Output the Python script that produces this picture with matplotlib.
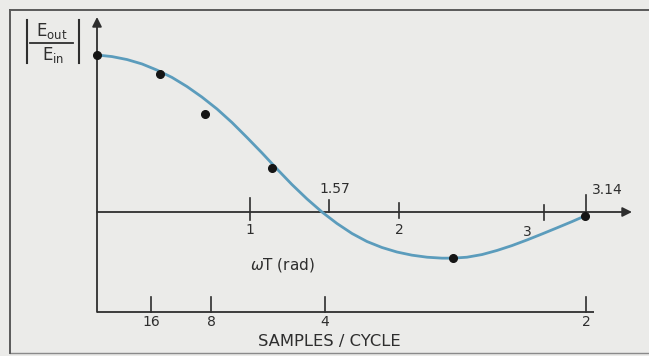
import matplotlib.pyplot as plt

# curve |Eout/Ein| (x in rad, as drawn)
curve_x = [0.000, 0.096, 0.193, 0.289, 0.385, 0.482, 0.578, 0.674, 0.771, 0.867,
           0.963, 1.060, 1.156, 1.252, 1.349, 1.445, 1.541, 1.638, 1.734, 1.830,
           1.927, 2.023, 2.120, 2.216, 2.286, 2.376, 2.473, 2.569, 2.665, 2.762,
           2.858, 2.954, 3.051, 3.134]
curve_y = [1.000, 0.990, 0.971, 0.943, 0.904, 0.857, 0.799, 0.732, 0.656, 0.570,
           0.475, 0.376, 0.274, 0.175, 0.083, 0.000, -0.073, -0.137, -0.188, -0.226,
           -0.255, -0.275, -0.288, -0.294, -0.294, -0.288, -0.271, -0.245, -0.214, -0.178,
           -0.140, -0.101, -0.061, -0.025]

# sampled points
dot_x = [0.0, 0.405, 0.694, 1.124, 2.286, 3.134]
dot_y = [1.0, 0.879, 0.624, 0.280, -0.293, -0.025]

# wT axis ticks (positions as drawn)
wt_labels = ['1', '1.57', '2', '3', '3.14']
wt_pos = [0.983, 1.49, 1.94, 2.871, 3.14]

# samples / cycle axis ticks
spc_labels = ['16', '8', '4', '2']
spc_pos = [0.347, 0.732, 1.464, 3.14]

ink = '#2e2e2e'
blue = '#5b9cbc'
bg = '#ebebe9'

fig = plt.figure(figsize=(6.49, 3.56), dpi=100, facecolor=bg)
ax = fig.add_axes([0, 0, 1, 1])
ax.set_xlim(-97 / 155.7, (649 - 97) / 155.7)
ax.set_ylim((212 - 356) / 157, 212 / 157)
ax.axis('off')

# frame: top and left lines, faint bottom line (open on the right)
fl, ft, fb = 10 / 649, 1 - 10 / 356, 3 / 356
ax.axhline(1.287, xmin=fl, xmax=1.0, color='#5a5a5a', lw=1.4)
ax.axhline(-0.898, xmin=fl, xmax=1.0, color='#8a8a8a', lw=1.0)
ax.axvline(-0.559, ymin=fb, ymax=ft, color='#5a5a5a', lw=1.4)

y_bot = -0.637
arrow = dict(arrowstyle='-|>', lw=1.3, color=ink, mutation_scale=14, shrinkA=0, shrinkB=0)
ax.annotate('', xy=(0, 1.242), xytext=(0, y_bot), arrowprops=arrow)
ax.annotate('', xy=(3.436, 0), xytext=(0, 0), arrowprops=arrow)
ax.plot([0, 3.19], [y_bot, y_bot], color=ink, lw=1.3, solid_capstyle='butt')

# wT ticks
tick_up = [0.09, 0.076, 0.057, 0.045, 0.108]
tick_dn = [0.051, 0.0, 0.038, 0.051, 0.032]
for p, u, d in zip(wt_pos, tick_up, tick_dn):
    ax.plot([p, p], [-d, u], color=ink, lw=1.2)
lab_xy = [(0.983, -0.115), (1.529, 0.146), (1.94, -0.115), (2.762, -0.127), (3.28, 0.14)]
for t, (lx, ly) in zip(wt_labels, lab_xy):
    ax.text(lx, ly, t, ha='center', va='center', fontsize=10, color=ink)
ax.text(1.19, -0.338, r'$\omega$T (rad)', ha='center', va='center', fontsize=11, color=ink)

# samples / cycle ticks
for p, t in zip(spc_pos, spc_labels):
    ax.plot([p, p], [y_bot, y_bot + 0.096], color=ink, lw=1.2)
    ax.text(p, -0.70, t, ha='center', va='center', fontsize=10, color=ink)
ax.text(1.49, -0.828, 'SAMPLES / CYCLE', ha='center', va='center', fontsize=11.8, color=ink)

# y label |Eout / Ein|
plt.rcParams['mathtext.fontset'] = 'dejavusans'
for bx in (-0.450, -0.116):
    ax.plot([bx, bx], [0.949, 1.223], color=ink, lw=1.5)
ax.plot([-0.430, -0.154], [1.076, 1.076], color=ink, lw=1.3)
ax.text(-0.289, 1.150, r'$\mathsf{E_{out}}$', ha='center', va='center', fontsize=12, color=ink)
ax.text(-0.283, 1.000, r'$\mathsf{E_{in}}$', ha='center', va='center', fontsize=12, color=ink)

ax.plot(curve_x, curve_y, color=blue, lw=2.0, solid_joinstyle='round',
        solid_capstyle='round', zorder=3)
ax.plot(dot_x, dot_y, 'o', color='#151515', markersize=5.5, zorder=4)

fig.savefig('out.png', dpi=100)
